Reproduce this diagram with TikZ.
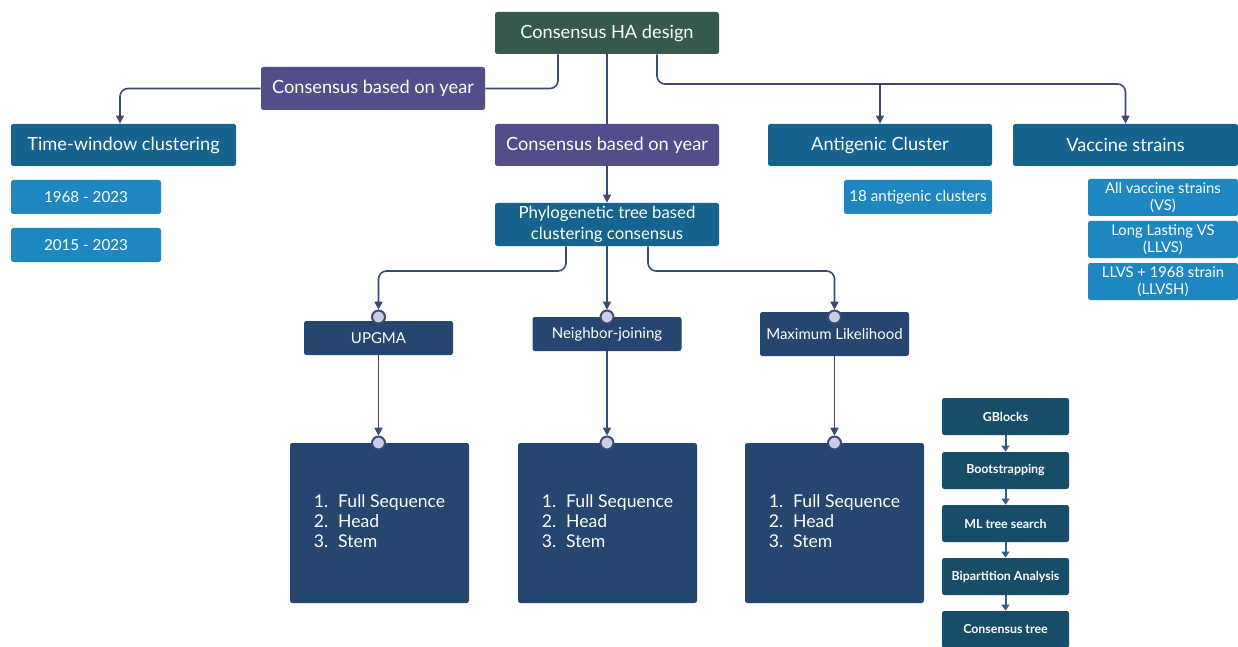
\documentclass[tikz,border=0pt]{standalone}
\usepackage{fontspec}
\setmainfont{Lato}
\usetikzlibrary{arrows.meta,calc}
\definecolor{cgreen}{HTML}{35594A}
\definecolor{cpurple}{HTML}{524E8A}
\definecolor{cteal}{HTML}{16638F}
\definecolor{clight}{HTML}{1E87C2}
\definecolor{cnavy}{HTML}{24466F}
\definecolor{cchain}{HTML}{184D6A}
\definecolor{cline}{HTML}{3B4A73}
\definecolor{cdot}{HTML}{C9CDE6}
\definecolor{carrow}{HTML}{2F5F86}
\tikzset{
  box/.style={rectangle, rounded corners=1.2pt, text=white, align=center, inner sep=1pt},
  head/.style={box, minimum width=112pt, minimum height=21pt, font=\fontsize{9.1}{10}\selectfont},
  sub/.style={box, fill=clight, minimum width=75pt, minimum height=17pt, font=\fontsize{7.6}{8.6}\selectfont},
  vsbox/.style={box, fill=clight, minimum width=75pt, minimum height=18.5pt, font=\fontsize{7.4}{8.6}\selectfont},
  method/.style={box, fill=cnavy, minimum width=74.5pt, minimum height=17pt, font=\fontsize{7.5}{8.4}\selectfont},
  big/.style={box, fill=cnavy, minimum width=89.5pt, minimum height=80pt, font=\fontsize{8.8}{10}\selectfont},
  chainbox/.style={box, fill=cchain, minimum width=63.5pt, minimum height=18.5pt, font=\fontsize{6.2}{7}\selectfont\bfseries},
  conn/.style={draw=cline, line width=0.8pt, rounded corners=4pt},
  arr/.style={conn, -{Triangle[length=4pt,width=4pt]}},
  carr/.style={draw=carrow, line width=1pt, -{Triangle[length=3pt,width=4pt]}},
  dot/.style={circle, draw=cline, line width=0.9pt, fill=cdot, minimum size=6.4pt, inner sep=0pt},
}
\newcommand{\seqlist}{\begin{tabular}{@{}l@{\hspace{5pt}}l@{}}1.&Full Sequence\\2.&Head\\3.&Stem\end{tabular}}
\begin{document}
\begin{tikzpicture}[x=0.5pt,y=-0.5pt]
\clip (0,0) rectangle (1238,647);
\fill[white] (0,0) rectangle (1238,647);
% top
\node[head, fill=cgreen] (ha) at (607,33) {Consensus HA design};
\node[head, fill=cpurple, minimum height=21.5pt] (cby1) at (373,88.5) {Consensus based on year};
\node[head, fill=cteal, minimum width=112.5pt] (twc) at (123.5,145) {Time-window clustering};
\node[sub] (y1) at (86,197) {1968 - 2023};
\node[sub] (y2) at (86,245) {2015 - 2023};
\node[head, fill=cpurple] (cby2) at (607,145) {Consensus based on year};
\node[head, fill=cteal, minimum height=21.5pt, font=\fontsize{8.4}{10.4}\selectfont] (phy) at (607,224.5) {Phylogenetic tree based\\clustering consensus};
\node[head, fill=cteal] (ant) at (880,145) {Antigenic Cluster};
\node[sub, minimum width=74pt] (ac) at (918,197) {18 antigenic clusters};
\node[head, fill=cteal, minimum width=112.5pt] (vac) at (1125.5,145) {Vaccine strains};
\node[vsbox] (vs1) at (1163,197.5) {All vaccine strains\\(VS)};
\node[vsbox] (vs2) at (1163,239.5) {Long Lasting VS\\(LLVS)};
\node[vsbox] (vs3) at (1163,281.5) {LLVS + 1968 strain\\(LLVSH)};
% methods
\node[method] (upg) at (378.5,338) {UPGMA};
\node[method] (nj) at (607,334) {Neighbor-joining};
\node[method, minimum height=22pt] (ml) at (834.5,334) {Maximum Likelihood};
% big boxes
\node[big] (b1) at (379.5,523) {\renewcommand{\arraystretch}{1.0}\seqlist};
\node[big] (b2) at (607.5,523) {\renewcommand{\arraystretch}{1.0}\seqlist};
\node[big] (b3) at (834.5,523) {\renewcommand{\arraystretch}{1.0}\seqlist};
% chain
\node[chainbox] (g1) at (1005.5,416.5) {GBlocks};
\node[chainbox] (g2) at (1005.5,470.5) {Bootstrapping};
\node[chainbox] (g3) at (1005.5,523.5) {ML tree search};
\node[chainbox] (g4) at (1005.5,576.5) {Bipartition Analysis};
\node[chainbox] (g5) at (1005.5,629.5) {Consensus tree};
% dots
\node[dot] (d1) at (378.5,317) {};
\node[dot] (d2) at (607,317) {};
\node[dot] (d3) at (834.5,317) {};
\node[dot] (e1) at (378.5,443) {};
\node[dot] (e2) at (607,443) {};
\node[dot] (e3) at (834.5,443) {};
% junction coordinates
\coordinate (j1) at (880,84);
\coordinate (j3) at (607,271);
% connectors
\draw[conn] ([xshift=-24.5pt]ha.south) |- (cby1.east);
\draw[arr] (cby1.west) -| ([xshift=-1.75pt]twc.north);
\draw[conn] (ha.south) -- (cby2.north);
\draw[arr] (cby2.south) -- (phy.north);
\draw[arr] ([xshift=25pt]ha.south) |- (j1) -| (vac.north);
\draw[arr] (j1) -- (ant.north);
\draw[arr] ([xshift=-20.5pt]phy.south) |- (d1.north |- j3) -- (d1.north);
\draw[arr] (phy.south) -- (d2.north);
\draw[arr] ([xshift=20.5pt]phy.south) |- (d3.north |- j3) -- (d3.north);
\draw[arr] (upg.south) -- (e1.north);
\draw[arr] (nj.south) -- (e2.north);
\draw[arr] (ml.south) -- (e3.north);
\draw[carr] (g1) -- (g2);
\draw[carr] (g2) -- (g3);
\draw[carr] (g3) -- (g4);
\draw[carr] (g4) -- (g5);
% redraw dots on top
\node[dot] at (d1) {};
\node[dot] at (d2) {};
\node[dot] at (d3) {};
\node[dot] at (e1) {};
\node[dot] at (e2) {};
\node[dot] at (e3) {};
\end{tikzpicture}
\end{document}
